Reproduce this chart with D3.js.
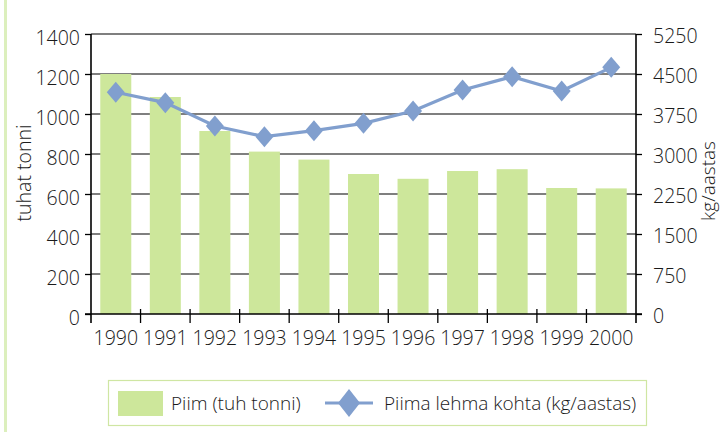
<!DOCTYPE html>
<html><head><meta charset="utf-8">
<script src="https://cdn.jsdelivr.net/npm/d3@7"></script>
<style>
body{margin:0;background:#fff;}
svg{display:block;font-family:"Open Sans",sans-serif;font-weight:350;}
</style></head>
<body><svg id="c" width="722" height="432"></svg>
<script>
const years = ["1990","1991","1992","1993","1994","1995","1996","1997","1998","1999","2000"];
const milk = [1200,1085,915,812,772,700,676,715,724,630,628];
const perCow = [4157,3963,3525,3325,3438,3575,3806,4200,4450,4181,4625];
const leftTicks = [0,200,400,600,800,1000,1200,1400];
const rightTicks = [0,750,1500,2250,3000,3750,4500,5250];
const seriesNames = ["Piim (tuh tonni)","Piima lehma kohta (kg/aastas)"];
const axisTitles = ["tuhat tonni","kg/aastas"];

const svg = d3.select("#c");
const L=91, R=636, T=34, B=314;
const barColor="#cde79b", lineColor="#819fce", gridColor="#555";
const txt="#1a1a1a";

const x = d3.scaleBand().domain(years).range([L,R]).paddingInner(0.374).paddingOuter(0.187);
const yL = d3.scaleLinear().domain([0,1400]).range([B,T]);
const yR = d3.scaleLinear().domain([0,5250]).range([B,T]);

// left border line
svg.append("rect").attr("x",4).attr("y",0).attr("width",3).attr("height",432).attr("fill","#dcefbd");

// gridlines
svg.append("g").selectAll("line").data(leftTicks.slice(1)).join("line")
  .attr("x1",L).attr("x2",R).attr("y1",d=>yL(d)).attr("y2",d=>yL(d))
  .attr("stroke",gridColor).attr("stroke-width",1.5);

// bars
svg.append("g").selectAll("rect").data(years).join("rect")
  .attr("x",d=>x(d)).attr("width",x.bandwidth())
  .attr("y",(d,i)=>yL(milk[i])).attr("height",(d,i)=>B-yL(milk[i]))
  .attr("fill",barColor);

// left axis
const gl = svg.append("g").attr("transform",`translate(${L},0)`)
  .call(d3.axisLeft(yL).tickValues(leftTicks).tickFormat(d3.format("d")).tickSize(6).tickPadding(5).tickSizeOuter(0));
gl.select(".domain").remove();
gl.append("line").attr("x1",0).attr("x2",0).attr("y1",T).attr("y2",B+9).attr("stroke","#000").attr("stroke-width",1.6);
gl.selectAll(".tick line").attr("stroke","#000").attr("stroke-width",1.3);
gl.selectAll(".tick text").attr("font-size",19.5).attr("fill",txt).attr("dy","0.55em").attr("font-family","Open Sans").attr("font-weight",350);

// right axis
const gr = svg.append("g").attr("transform",`translate(${R},0)`)
  .call(d3.axisRight(yR).tickValues(rightTicks).tickFormat(d3.format("d")).tickSize(6).tickPadding(11).tickSizeOuter(0));
gr.select(".domain").remove();
gr.append("line").attr("x1",0).attr("x2",0).attr("y1",T).attr("y2",B+9).attr("stroke","#000").attr("stroke-width",1.6);
gr.selectAll(".tick line").attr("stroke","#000").attr("stroke-width",1.3);
gr.selectAll(".tick text").attr("font-size",19.5).attr("fill",txt).attr("dy","0.45em").attr("font-family","Open Sans").attr("font-weight",350);

// bottom axis
const gb = svg.append("g").attr("transform",`translate(0,${B})`);
gb.append("line").attr("x1",L-6).attr("x2",R+6).attr("y1",0).attr("y2",0).attr("stroke","#000").attr("stroke-width",1.6);
const bounds = years.slice(1).map(d=>x(d)-x.step()*x.paddingInner()/2);
gb.selectAll("line.t").data(bounds).join("line").attr("class","t")
  .attr("x1",d=>d).attr("x2",d=>d).attr("y1",-5).attr("y2",9).attr("stroke","#000").attr("stroke-width",1.3);
gb.selectAll("text").data(years).join("text")
  .attr("x",d=>x(d)+x.bandwidth()/2).attr("y",31).attr("text-anchor","middle")
  .attr("font-size",19.5).attr("fill",txt).text(d=>d);

// line series
const lineGen = d3.line().x((d,i)=>x(years[i])+x.bandwidth()/2).y(d=>yR(d));
svg.append("path").datum(perCow).attr("d",lineGen).attr("fill","none").attr("stroke",lineColor).attr("stroke-width",3.2);
const diamond = (w,h)=>`M0,${-h}L${w},0L0,${h}L${-w},0Z`;
svg.append("g").selectAll("path").data(perCow).join("path")
  .attr("transform",(d,i)=>`translate(${x(years[i])+x.bandwidth()/2},${yR(d)})`)
  .attr("d",diamond(9,10.5)).attr("fill",lineColor);

// axis titles
svg.append("text").attr("transform","translate(31,173) rotate(-90)").attr("text-anchor","middle")
  .attr("font-size",19.5).attr("fill",txt).text(axisTitles[0]);
svg.append("text").attr("transform","translate(715,181) rotate(-90)").attr("text-anchor","middle")
  .attr("font-size",19).attr("fill",txt).text(axisTitles[1]);

// legend
const lg = svg.append("g");
lg.append("rect").attr("x",108.5).attr("y",380.5).attr("width",538).attr("height",45)
  .attr("fill","#fff").attr("stroke","#cfe6a3").attr("stroke-width",1.2);
lg.append("rect").attr("x",118).attr("y",391).attr("width",45).attr("height",25).attr("fill",barColor);
lg.append("text").attr("x",171).attr("y",410).attr("font-size",19).attr("fill",txt).text(seriesNames[0]);
lg.append("line").attr("x1",325).attr("x2",373).attr("y1",403).attr("y2",403).attr("stroke",lineColor).attr("stroke-width",3.2);
lg.append("path").attr("transform","translate(349,403)").attr("d",diamond(11,14)).attr("fill",lineColor);
lg.append("text").attr("x",384).attr("y",410).attr("font-size",19).attr("fill",txt).text(seriesNames[1]);
</script></body></html>
